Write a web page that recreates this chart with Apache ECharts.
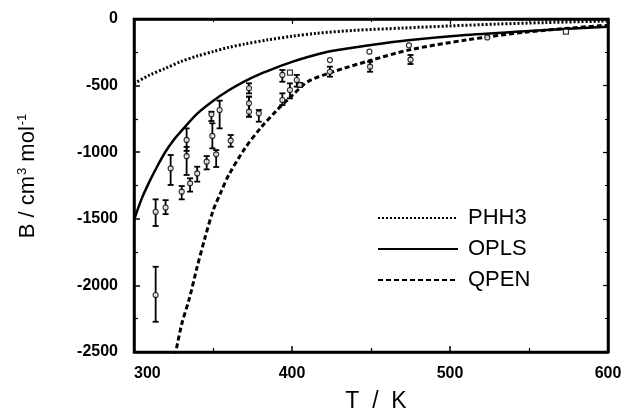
<!DOCTYPE html>
<html>
<head>
<meta charset="utf-8">
<style>
  html, body { margin: 0; padding: 0; background: #fff; }
  #chart { width: 625px; height: 418px; }
</style>
<script src="https://cdn.jsdelivr.net/npm/echarts@6/dist/echarts.min.js"></script>
</head>
<body>
<div id="chart"></div>
<script>
// model curves (T in K, B in cm3/mol)
const phh3T = [300, 310, 320, 330, 340, 350, 360, 370, 385, 400, 415, 440, 470, 500, 530, 560, 600];
const phh3B = [-485, -420, -370, -318, -278, -245, -213, -188, -156, -130, -108, -85, -68, -52, -38, -27, -15];

const oplsT = [300, 305, 310, 315, 320, 325, 330, 340, 350, 360, 370, 380, 390, 400, 410, 425, 450, 475, 510, 550, 600];
const oplsB = [-1510, -1345, -1215, -1100, -995, -910, -840, -710, -615, -535, -468, -412, -365, -322, -285, -240, -195, -158, -120, -90, -58];

const qpenT = [325, 330, 335, 340, 345, 350, 355, 360, 370, 380, 390, 400, 410, 425, 450, 475, 510, 550, 600];
const qpenB = [-2590, -2300, -2100, -1860, -1640, -1440, -1300, -1170, -975, -820, -690, -575, -470, -400, -310, -230, -158, -96, -46];

// experimental points: T, B, lower end of bar, upper end of bar
const expT  = [313.7, 320, 313.7, 323.2, 330.2, 333.3, 333.3, 335.5, 340, 346, 349, 349.6, 352, 354.2, 361.2, 372.8, 372.8, 372.8, 379, 393.9, 393.9, 403, 398.7, 405, 424, 449.4, 475];
const expB  = [-1447, -1415, -2072, -1121, -1296, -908, -1030, -1234, -1159, -1071, -716, -878, -1016, -683, -913, -520, -633, -696, -708, -420, -608, -458, -533, -495, -396, -358, -305];
const expLo = [-1554, -1465, -2273, -1246, -1354, -990, -1171, -1296, -1221, -1129, -766, -971, -1111, -821, -959, -558, -733, -733, -771, -471, -646, -508, -596, -510, -433, -396, -338];
const expHi = [-1354, -1360, -1860, -1021, -1254, -821, -960, -1196, -1109, -1029, -696, -783, -984, -613, -871, -483, -583, -583, -683, -383, -558, -420, -483, -480, -358, -321, -270];

// points drawn without bars
const circT = [424, 449, 474, 523.6];
const circB = [-308, -245, -198, -138];
const sqT = [398.7, 573.4];
const sqB = [-403, -95];

const zip = (xs, ys) => xs.map((x, i) => [x, ys[i]]);

const chart = echarts.init(document.getElementById('chart'));

//刻度文字
const tickFont = { color: '#000', fontFamily: 'Liberation Sans', fontWeight: 'bold', fontSize: 16, formatter: v => String(v) };
const axisLine = { show: true, onZero: false, lineStyle: { color: '#000', width: 2.5 } };

chart.setOption({
  animation: false,
  grid: { left: 134, right: 17, top: 19, bottom: 66, show: true, borderColor: '#000', borderWidth: 2.5 },
  xAxis: [{
    type: 'value', min: 300, max: 600, interval: 100,
    axisLine: axisLine,
    axisTick: { inside: true, length: 6, lineStyle: { color: '#000', width: 1.5 } },
    minorTick: { show: true, splitNumber: 2, length: 4, lineStyle: { color: '#000', width: 1.2 } },
    splitLine: { show: false },
    axisLabel: Object.assign({ margin: 14, alignMinLabel: 'left' }, tickFont)
  }, {
    type: 'value', min: 300, max: 600, interval: 100, position: 'top',
    axisLine: axisLine,
    axisTick: { inside: true, length: 5, lineStyle: { color: '#000', width: 1.2 } },
    minorTick: { show: true, splitNumber: 2, length: 3, lineStyle: { color: '#000', width: 1 } },
    splitLine: { show: false },
    axisLabel: { show: false }
  }],
  yAxis: [{
    type: 'value', min: -2500, max: 0, interval: 500,
    axisLine: axisLine,
    axisTick: { inside: true, length: 6, lineStyle: { color: '#000', width: 1.5 } },
    minorTick: { show: true, splitNumber: 2, length: 4, lineStyle: { color: '#000', width: 1.2 } },
    splitLine: { show: false },
    axisLabel: Object.assign({ margin: 16 }, tickFont)
  }, {
    type: 'value', min: -2500, max: 0, interval: 500, position: 'right',
    axisLine: axisLine,
    axisTick: { inside: true, length: 5, lineStyle: { color: '#000', width: 1.2 } },
    minorTick: { show: true, splitNumber: 2, length: 3, lineStyle: { color: '#000', width: 1 } },
    splitLine: { show: false },
    axisLabel: { show: false }
  }],
  legend: {
    data: ['PHH3', 'OPLS', 'QPEN'],
    orient: 'vertical',
    left: 372, top: 202,
    itemWidth: 80, itemHeight: 14, itemGap: 9,
    itemStyle: { opacity: 0 },
    textStyle: { color: '#000', fontFamily: 'Liberation Sans', fontSize: 22, padding: [0, 0, 0, 5] }
  },
  graphic: [{
    type: 'text', x: 28, y: 176, rotation: Math.PI / 2,
    style: {
      text: '{n|B / cm}{s|3}{n| mol}{s|-1}',
      align: 'center', verticalAlign: 'middle',
      fill: '#000',
      rich: {
        n: { fontFamily: 'Liberation Sans', fontSize: 22, fill: '#000', lineHeight: 26 },
        s: { fontFamily: 'Liberation Sans', fontSize: 13, fill: '#000', padding: [0, 0, 12, 1] }
      }
    }
  }, {
    type: 'text', x: 376, y: 402,
    style: {
      text: 'T  /  K', align: 'center', verticalAlign: 'middle',
      fill: '#000', font: '23px "Liberation Sans"'
    }
  }],
  series: [{
    name: 'PHH3', type: 'line', data: zip(phh3T, phh3B),
    smooth: 0.3, symbol: 'none',
    itemStyle: { color: '#000' },
    lineStyle: { color: '#000', width: 3, type: [2, 2] }
  }, {
    name: 'OPLS', type: 'line', data: zip(oplsT, oplsB),
    smooth: 0.3, symbol: 'none',
    itemStyle: { color: '#000' },
    lineStyle: { color: '#000', width: 2.5 }
  }, {
    name: 'QPEN', type: 'line', data: zip(qpenT, qpenB),
    smooth: 0.3, symbol: 'none', clip: true,
    itemStyle: { color: '#000' },
    lineStyle: { color: '#000', width: 3, type: [5, 3] }
  }, {
    name: 'bars', type: 'custom',
    data: expT.map((t, i) => [t, expB[i], expLo[i], expHi[i]]),
    renderItem: function (params, api) {
      const lo = api.coord([api.value(0), api.value(2)]);
      const hi = api.coord([api.value(0), api.value(3)]);
      const w = 3;
      const st = { stroke: '#000', lineWidth: 1.8 };
      return {
        type: 'group',
        children: [
          { type: 'line', shape: { x1: lo[0], y1: lo[1], x2: hi[0], y2: hi[1] }, style: st },
          { type: 'line', shape: { x1: lo[0] - w, y1: lo[1], x2: lo[0] + w, y2: lo[1] }, style: st },
          { type: 'line', shape: { x1: hi[0] - w, y1: hi[1], x2: hi[0] + w, y2: hi[1] }, style: st }
        ]
      };
    },
    z: 3
  }, {
    name: 'exp', type: 'scatter', data: zip(expT, expB).concat(zip(circT, circB)),
    symbol: 'circle', symbolSize: 5,
    itemStyle: { color: '#fff', borderColor: '#000', borderWidth: 1.2 },
    z: 4
  }, {
    name: 'exp2', type: 'scatter', data: zip(sqT, sqB),
    symbol: 'rect', symbolSize: 5,
    itemStyle: { color: '#fff', borderColor: '#000', borderWidth: 1.2 },
    z: 4
  }]
});
</script>
</body>
</html>
